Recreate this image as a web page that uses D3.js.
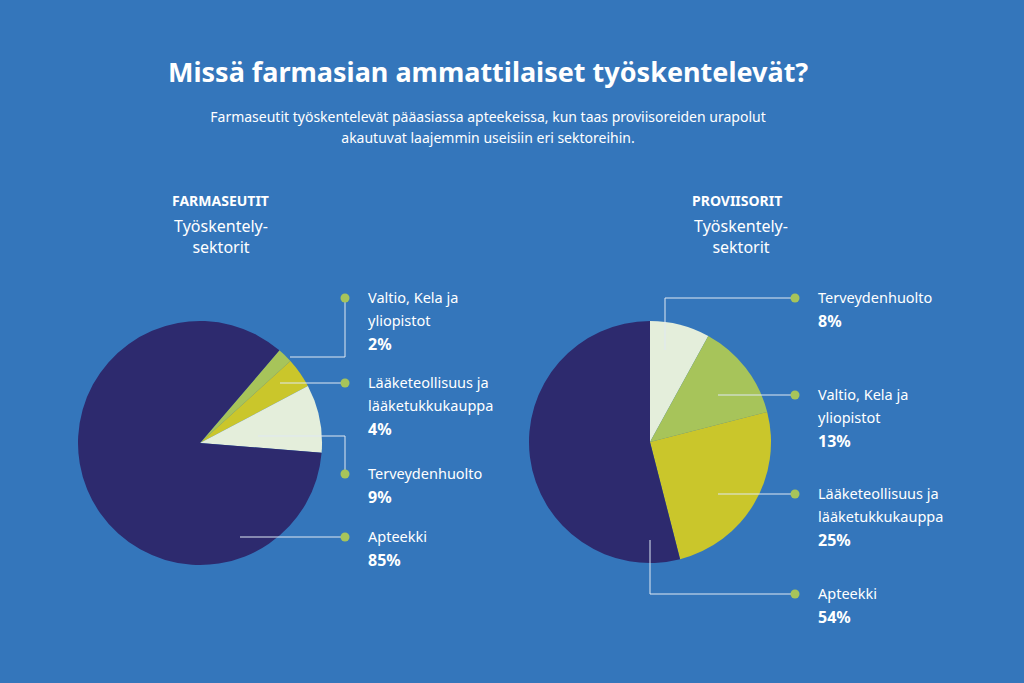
<!DOCTYPE html>
<html><head><meta charset="utf-8">
<script src="https://cdn.jsdelivr.net/npm/d3@7"></script>
<style>body{margin:0;background:#3476bb;font-family:"Noto Sans",sans-serif}</style>
</head><body><div id="chart"></div>
<script>
// values, start angle in degrees from 12 o'clock
const pies = [
  {cx: 200, cy: 443, r: 122, start: 40.6, head: "FARMASEUTIT", hx: 172,
   data: [
     {name: ["Valtio, Kela ja", "yliopistot"], v: 2, color: "#a7c45a", pt: [290, 357], dot: [345, 298], path: "h"},
     {name: ["Lääketeollisuus ja", "lääketukkukauppa"], v: 4, color: "#cac62b", pt: [280, 383], dot: [345, 383], path: "h"},
     {name: ["Terveydenhuolto"], v: 9, color: "#e4eedb", pt: [258, 436], dot: [345, 474], path: "h"},
     {name: ["Apteekki"], v: 85, color: "#2d2a6e", pt: [240, 537], dot: [345, 537], path: "h"}
   ]},
  {cx: 650, cy: 442, r: 121, start: 0, head: "PROVIISORIT", hx: 692,
   data: [
     {name: ["Terveydenhuolto"], v: 8, color: "#e4eedb", pt: [665, 350], dot: [795, 298], path: "v"},
     {name: ["Valtio, Kela ja", "yliopistot"], v: 13, color: "#a7c45a", pt: [718, 395], dot: [795, 395], path: "h"},
     {name: ["Lääketeollisuus ja", "lääketukkukauppa"], v: 25, color: "#cac62b", pt: [718, 494], dot: [795, 494], path: "h"},
     {name: ["Apteekki"], v: 54, color: "#2d2a6e", pt: [650, 540], dot: [795, 594], path: "v"}
   ]}
];

const svg = d3.select("#chart").append("svg").attr("width", 1024).attr("height", 683);
svg.append("rect").attr("width", 1024).attr("height", 683).attr("fill", "#3476bb");

svg.append("text").attr("x", 168).attr("y", 82).attr("fill", "#fff")
  .attr("font-size", 27).attr("font-weight", "bold").text("Missä farmasian ammattilaiset työskentelevät?");
[["Farmaseutit työskentelevät pääasiassa apteekeissa, kun taas proviisoreiden urapolut", 122],
 ["akautuvat laajemmin useisiin eri sektoreihin.", 143]].forEach(t => {
  svg.append("text").attr("x", 488).attr("y", t[1]).attr("text-anchor", "middle")
    .attr("fill", "#fff").attr("font-size", 14).text(t[0]);
});

pies.forEach(p => {
  const g = svg.append("g");
  g.append("text").attr("x", p.hx).attr("y", 206).attr("fill", "#fff")
    .attr("font-size", 14).attr("font-weight", "bold").text(p.head);
  g.append("text").attr("x", p.hx + 49).attr("y", 232).attr("text-anchor", "middle")
    .attr("fill", "#fff").attr("font-size", 16).text("Työskentely-");
  g.append("text").attr("x", p.hx + 49).attr("y", 253).attr("text-anchor", "middle")
    .attr("fill", "#fff").attr("font-size", 16).text("sektorit");

  const s = p.start * Math.PI / 180;
  const pie = d3.pie().value(d => d.v).sort(null).startAngle(s).endAngle(s + 2 * Math.PI);
  const arc = d3.arc().innerRadius(0).outerRadius(p.r);
  g.append("g").attr("transform", `translate(${p.cx},${p.cy})`)
    .selectAll("path").data(pie(p.data)).enter().append("path")
    .attr("d", arc).attr("fill", d => d.data.color);

  p.data.forEach(d => {
    const [x0, y0] = d.pt, [x1, y1] = d.dot;
    const pts = d.path == "h" ? [[x0, y0], [x1, y0], [x1, y1]] : [[x0, y0], [x0, y1], [x1, y1]];
    g.append("path").attr("d", d3.line()(pts)).attr("fill", "none")
      .attr("stroke", "#dfe8f2").attr("stroke-width", 1);
    g.append("circle").attr("cx", x1).attr("cy", y1).attr("r", 4.5).attr("fill", "#a7c45a");
    const lx = x1 + 23;
    d.name.forEach((n, i) => {
      g.append("text").attr("x", lx).attr("y", y1 + 5 + i * 23).attr("fill", "#fff")
        .attr("font-size", 14.5).text(n);
    });
    g.append("text").attr("x", lx).attr("y", y1 + 6 + d.name.length * 23).attr("fill", "#fff")
      .attr("font-size", 16).attr("font-weight", "bold").text(d.v + "%");
  });
});
</script></body></html>
